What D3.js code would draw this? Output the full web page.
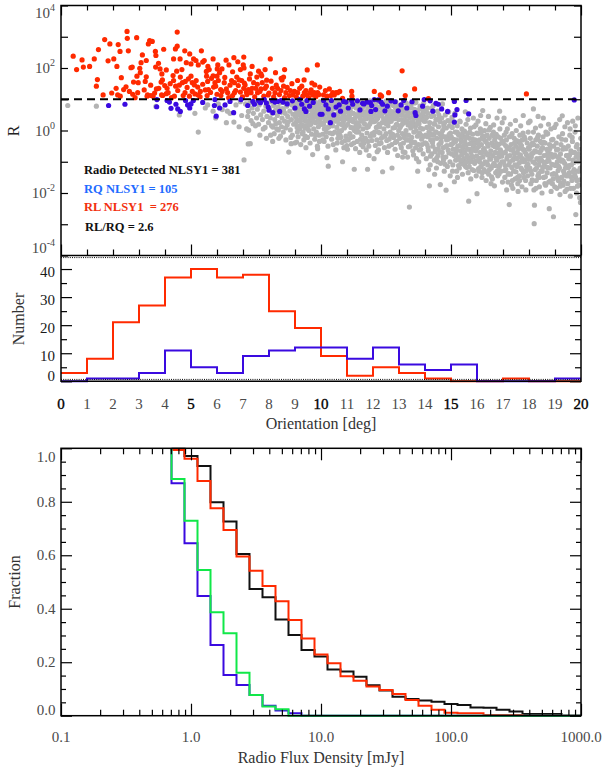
<!DOCTYPE html>
<html><head><meta charset="utf-8">
<script src="https://cdn.jsdelivr.net/npm/d3@7"></script>
<style>body{margin:0;background:#fff}svg{display:block}text{font-family:"Liberation Serif","Times New Roman",serif}</style>
</head><body><svg id="c" width="604" height="774"></svg>
<script>
// ---------- DATA ----------
// Scatter: [orientation deg, log10 R]
const rlPoints = [[0.47,2.38],[0.81,2.26],[0.86,2.03],[1.28,2.29],[1.44,2.59],[1.68,2.91],[1.88,2.77],[2.03,2.29],[1.81,2.23],[2.15,2.05],[2.27,2.53],[2.32,1.69],[2.54,3.17],[2.55,2.95],[2.59,2.55],[2.91,2.97],[2.69,2.01],[2.74,2.03],[2.79,1.55],[2.92,1.74],[3.03,1.99],[3.08,2.17],[3.13,2.42],[3.28,2.24],[3.36,2.77],[3.41,2.88],[3.51,2.85],[3.63,2.53],[3.65,2.40],[3.64,2.03],[3.81,1.97],[3.88,1.81],[4.05,1.94],[4.47,3.15],[4.40,2.61],[4.47,2.70],[4.76,2.55],[4.33,2.29],[4.58,2.29],[4.82,2.17],[5.00,2.13],[5.10,2.29],[5.19,2.24],[5.28,2.10],[5.45,2.19],[5.51,2.24],[5.85,2.29],[6.03,2.10],[6.01,1.97],[6.19,1.97],[6.46,2.10],[6.65,2.33],[7.03,2.35],[7.01,2.10],[7.04,2.00],[7.28,1.81],[7.53,1.71],[7.69,1.81],[7.85,1.95],[8.05,2.29],[7.74,1.53],[7.91,1.61],[8.47,1.67],[8.56,1.71],[9.10,1.60],[9.47,1.94],[9.86,2.10],[9.76,1.46],
[1.36,1.42],[1.40,1.63],[1.62,1.14],[2.12,1.35],[2.18,1.14],[2.28,1.10],[2.41,1.31],[2.63,1.25],[2.76,1.16],[2.97,1.53],[3.28,1.72],[3.24,1.57],[3.31,1.10],[3.46,1.12],[3.67,1.33],[3.76,1.35],[3.85,1.55],[3.99,1.44],[3.87,1.14],[4.08,1.35],[4.12,1.21],[4.31,1.76],[4.33,1.60],[4.41,1.42],[4.49,1.28],[4.59,1.71],[4.67,1.53],[4.78,1.57],[4.85,1.38],[5.00,1.74],[5.05,1.53],[5.13,1.46],[5.26,1.39],[5.28,1.14],[5.36,1.25],[5.59,1.89],[5.60,1.74],[5.64,1.57],[5.67,1.31],[5.62,1.12],[5.79,1.67],[5.87,1.39],[5.92,1.53],[6.00,1.74],[6.05,1.60],[6.14,1.31],[6.28,1.53],[6.36,1.33],[6.41,1.21],[6.56,1.60],[6.67,1.53],[6.76,1.71],[6.82,1.44],[6.90,1.23],[6.95,1.60],[7.03,1.35],[7.08,1.46],[7.13,1.23],[7.21,1.31],[7.31,1.21],[7.41,1.53],[7.49,1.35],[7.56,1.21],[7.69,1.33],[7.85,1.35],[7.97,1.14],[8.13,1.35],[8.23,1.21],[8.33,1.35],[8.46,1.28],[8.56,1.42],[8.65,1.21],[8.82,1.28],[8.91,1.14],[9.10,1.21],[9.26,1.42],[9.36,1.21],[9.46,1.14],[9.59,1.21],[9.68,1.14],[9.74,1.21],[9.87,1.21],[9.95,1.39],[6.00,1.16],[6.15,1.12],[6.60,1.12],[6.67,1.21],[5.15,1.17],[4.77,1.21],[4.94,1.10],[4.36,1.10],[3.91,1.12],[3.54,1.10],[3.33,1.14],[2.95,1.21],
[10.17,1.28],[10.32,1.33],[10.23,1.10],[10.38,1.12],[10.51,1.14],[10.58,1.21],[10.64,1.21],[10.72,1.25],[10.83,1.03],[11.18,1.25],[11.19,1.10],[12.05,1.25],[12.28,1.14],[12.33,1.10],[12.60,1.21],[13.12,1.91],[13.24,1.12],[13.60,1.33],[14.13,1.02],[17.90,1.17],[10.10,1.14],[10.45,1.21],
[3.2,1.30],[3.45,1.45],[3.6,1.20],[3.9,1.62],[4.05,1.18],[4.2,1.50],[4.25,1.05],[4.55,1.45],[4.7,1.12],[4.9,1.65],[5.05,1.25],[5.2,1.60],[5.35,1.08],[5.45,1.48],[5.55,1.30],[5.7,1.95],[5.75,1.22],[5.95,1.42],[6.1,1.85],[6.2,1.25],[6.3,1.70],[6.45,1.05],[6.5,1.45],[6.6,1.88],[6.72,1.28],[6.85,1.62],[6.98,1.08],[7.05,1.52],[7.15,1.15],[7.25,1.65],[7.35,1.35],[7.45,1.08],[7.55,1.48],[7.65,1.25],[7.72,1.75],[7.8,1.10],[7.9,1.42],[8.0,1.20],[8.08,1.58],[8.18,1.08],[8.28,1.45],[8.4,1.15],[8.5,1.62],[8.6,1.05],[8.7,1.38],[8.78,1.12],[8.88,1.50],[8.98,1.25],[9.05,1.08],[9.18,1.35],[9.3,1.10],[9.42,1.28],[9.52,1.05],[9.62,1.30],[9.8,1.08],[9.92,1.15],[2.5,1.40],[2.85,1.05],[3.05,1.85],[1.95,1.20],[4.45,1.90],[5.85,1.75],[6.9,1.95],[7.6,1.90],[8.25,1.85],[3.75,2.15],[4.95,2.45],[5.65,2.05],[6.35,2.25],[2.2,2.75],[1.1,2.05],[0.6,1.95],[3.95,2.60],[4.65,1.95],[5.4,2.55],[6.8,2.20],[7.35,2.05],[8.6,1.95],[9.35,1.62],[9.65,1.52]];

const rqPoints = [[1.83,0.80],[2.46,0.84],[3.69,0.99],[3.68,0.76],[4.08,0.96],[4.17,0.91],[4.23,0.71],[4.42,0.84],[4.49,0.69],[4.59,0.61],[4.79,0.96],[4.87,0.82],[5.00,0.85],[5.09,0.96],[5.92,0.99],[5.90,0.80],[5.97,0.46],[6.31,0.82],[6.64,0.57],[6.92,0.99],[7.18,0.80],[7.38,0.93],[7.44,0.84],[7.67,0.89],[7.82,0.99],[7.97,0.75],[8.13,0.96],[8.15,0.57],[8.23,0.91],[8.33,0.93],[8.41,0.61],[8.46,0.96],[8.54,0.91],[9.18,0.99],[9.26,0.84],[9.36,0.69],[9.46,0.96],[9.56,0.78],[9.42,0.61],[9.97,0.52],
[10.10,0.96],[10.19,0.82],[10.28,0.69],[10.04,0.52],[10.49,0.50],[10.36,0.25],[10.58,0.75],[10.87,0.93],[10.96,0.91],[11.18,0.96],[11.22,0.84],[11.60,0.87],[11.77,0.91],[11.90,0.89],[11.95,0.80],[11.92,0.61],[12.05,0.99],[12.10,0.67],[12.31,0.91],[12.37,0.84],[12.46,0.63],[12.69,0.95],[12.97,0.63],[13.08,0.82],[13.18,0.96],[13.62,0.57],[13.65,0.48],[13.91,0.78],[13.97,0.99],[14.42,0.87],[14.51,0.84],[14.64,0.69],[14.87,0.61],[15.13,0.93],[15.23,0.67],[15.15,0.50],[15.13,0.27],[15.58,0.96],[15.68,0.53],[19.74,0.98],
[7.6,0.95],[7.9,0.88],[8.0,0.65],[8.7,0.85],[8.9,0.95],[9.0,0.72],[9.7,0.90],[10.4,0.96],[10.7,0.82],[10.75,0.62],[11.05,0.72],[11.4,0.95],[11.5,0.66],[11.65,0.85],[12.2,0.98],[12.55,0.78],[12.85,0.92],[13.3,0.72],[13.5,0.92],[14.2,0.95],[14.3,0.62],[6.5,0.93],[6.1,0.72],[5.45,0.90],[4.95,0.72]];

// Undetected objects, flat pairs: orientation*100, log10(R)*100
const grayPairs = [26,80,136,78,365,77,455,50,
515,55,528,-5,555,72,564,82,585,62,595,40,
605,85,620,67,636,25,650,55,665,27,673,82,690,92,640,62,695,48,685,12,
704,-94,714,5,720,-43,721,61,722,1,728,-42,731,32,710,85,735,72,740,55,745,90,752,40,755,68,760,20,762,82,768,50,772,95,775,35,780,62,785,10,788,78,792,45,795,88,798,25,718,45,725,88,748,15,758,92,778,5,765,-15,738,22,790,-25,
802,70,805,40,808,92,810,15,812,55,815,11,818,80,820,-10,822,35,825,65,828,95,830,5,832,48,835,75,838,-25,840,25,842,88,845,58,848,12,850,40,852,70,855,-5,858,90,860,30,862,55,865,-30,868,78,870,18,872,45,875,95,876,-69,880,62,882,2,885,-42,886,35,888,82,890,-15,892,52,895,20,897,72,899,-40,814,-35,836,2,844,-18,856,65,864,8,874,28,884,-22,894,92,826,22,866,85,806,-15,
902,45,905,85,906,-37,908,10,910,62,912,-20,914,32,916,92,918,5,920,52,922,-45,924,75,926,18,928,-10,930,40,932,88,934,-30,936,60,938,8,940,30,942,-55,944,78,946,15,948,-22,950,48,952,95,954,0,956,35,958,-40,960,68,962,22,964,-12,966,85,968,-77,970,42,972,5,974,58,976,-28,978,90,980,25,982,-5,984,70,986,-50,987,-58,988,38,990,12,992,82,994,-35,996,50,998,20,903,25,913,72,923,42,933,15,943,55,953,28,963,48,973,80,983,45,993,-15,909,-5,939,-18,969,30,997,65,
901,70,904,55,907,35,911,88,915,50,917,15,919,78,921,30,925,58,927,92,929,45,931,-5,935,80,937,40,941,62,945,30,947,88,949,5,951,68,955,72,957,18,959,50,961,90,965,38,967,62,971,75,975,28,977,48,979,-15,981,85,985,55,989,72,991,30,995,92,999,40,
1002,88,1004,45,1006,-12,1008,70,1010,20,1012,-35,1014,92,1016,55,1018,5,1020,-20,1022,75,1023,-87,1025,35,1027,-50,1028,-114,1029,85,1031,12,1033,62,1035,-8,1037,40,1039,95,1041,-28,1043,68,1045,15,1047,-45,1049,50,1051,82,1053,-5,1055,30,1057,-62,1059,72,1061,10,1063,48,1065,-25,1067,90,1069,22,1071,58,1073,-15,1075,38,1077,80,1079,0,1081,-38,1083,-100,1084,65,1086,28,1088,-55,1090,8,1092,85,1094,42,1096,-18,1098,60,1001,25,1011,60,1021,-5,1032,82,1042,30,1052,48,1062,-40,1072,92,1082,18,1093,-32,1097,75,1007,-30,1017,32,1026,10,1036,78,1046,88,1056,52,1066,-10,1076,-22,1087,50,1013,5,1024,58,1034,25,1044,-10,1054,72,1064,35,1074,62,1085,40,1095,15,1099,-48,
1003,72,1005,20,1009,50,1015,80,1019,38,1021,92,1026,68,1030,50,1038,58,1040,22,1048,70,1050,32,1058,90,1060,45,1068,65,1070,-2,1078,55,1080,85,1089,78,1091,35,1093,62,1100,92,
1101,70,1103,20,1105,-30,1107,90,1109,45,1111,-10,1113,62,1115,10,1117,-45,1119,80,1121,35,1123,-20,1125,55,1127,95,1128,-124,1129,0,1131,40,1133,-58,1135,72,1137,25,1139,-35,1141,85,1143,48,1145,-5,1147,15,1149,-70,1151,65,1153,30,1155,92,1157,-15,1159,50,1161,5,1163,78,1165,-40,1167,22,1169,60,1171,-25,1173,88,1175,38,1177,-8,1179,-124,1180,70,1182,12,1184,-50,1186,45,1188,95,1190,-18,1192,28,1194,62,1196,-32,1198,82,1102,-60,1106,55,1112,35,1116,75,1122,8,1126,-40,1132,90,1136,-5,1142,18,1146,60,1152,-28,1156,32,1162,-52,1166,85,1172,45,1176,10,1181,-35,1187,20,1193,75,1197,-10,1104,42,1114,-22,1124,28,1134,15,1144,72,1154,-45,1164,52,1174,-62,1185,-80,1195,40,
1108,68,1110,32,1118,55,1120,92,1130,78,1138,50,1140,8,1148,88,1150,40,1158,72,1160,-30,1168,38,1170,95,1178,58,1183,82,1189,40,1191,68,1199,52,
1201,55,1203,-15,1205,85,1207,30,1209,-48,1211,68,1213,10,1215,-30,1217,92,1219,40,1221,-62,1223,20,1225,75,1227,-8,1229,50,1231,-40,1233,88,1235,25,1237,-132,1238,-20,1240,62,1242,5,1244,-55,1246,80,1248,35,1250,-10,1252,95,1254,45,1256,-70,1258,15,1260,70,1262,-28,1264,52,1266,-5,1268,85,1270,30,1272,-45,1273,-120,1275,60,1277,8,1279,-22,1281,90,1283,38,1285,-60,1287,72,1289,18,1291,-35,1293,48,1295,-80,1297,78,1299,0,1202,28,1206,-5,1212,45,1216,-68,1222,58,1226,12,1232,-25,1236,70,1241,38,1245,-18,1251,22,1255,78,1261,-50,1265,32,1271,85,1276,-12,1282,55,1286,-38,1292,20,1296,65,1204,-90,1214,35,1224,-42,1234,52,1243,80,1253,-32,1263,28,1274,42,1284,10,1294,-15,
1208,62,1210,88,1218,75,1220,-5,1228,92,1230,48,1239,82,1247,58,1249,92,1257,40,1259,88,1267,62,1269,-18,1278,80,1280,45,1288,92,1290,55,1298,35,
1301,50,1303,-25,1305,80,1307,15,1309,-55,1311,35,1313,-10,1315,70,1317,-40,1319,25,1321,92,1323,-70,1325,45,1327,0,1329,-30,1331,62,1333,-85,1335,18,1337,-15,1339,75,1340,-245,1341,40,1343,-50,1345,8,1347,85,1349,-22,1351,55,1353,-65,1355,28,1357,-5,1359,68,1361,-38,1363,12,1365,90,1367,-90,1369,42,1371,-18,1372,-130,1373,60,1375,-45,1377,22,1379,-8,1381,78,1383,-60,1385,35,1387,-28,1389,52,1391,5,1393,-75,1395,88,1397,30,1399,-40,1302,65,1306,-45,1312,20,1316,-68,1322,30,1326,-12,1332,48,1336,-52,1342,72,1346,-35,1352,15,1356,-78,1362,58,1366,-2,1374,32,1378,-62,1382,8,1386,70,1392,-20,1396,45,1304,10,1314,-85,1324,62,1334,-30,1344,25,1354,48,1364,-55,1376,-100,1384,-15,1394,62,
1308,82,1310,50,1318,62,1320,-22,1328,88,1330,30,1338,55,1348,72,1350,-38,1358,40,1360,88,1368,20,1370,65,1380,45,1388,-45,1390,78,1398,60,
1401,30,1403,-40,1405,-90,1407,10,1409,-20,1411,55,1413,-65,1415,-5,1417,-177,1418,25,1420,-110,1422,-30,1424,45,1426,-75,1428,5,1430,-50,1432,80,1434,-15,1436,-95,1438,20,1440,-60,1442,35,1444,-120,1446,-25,1448,62,1450,-80,1452,12,1454,-45,1456,-10,1458,28,1459,-173,1460,-105,1462,-35,1464,40,1466,-70,1468,0,1470,-55,1472,18,1474,-130,1476,-20,1478,50,1480,-85,1481,-191,1482,8,1484,-48,1486,-115,1488,32,1490,-28,1492,-72,1494,15,1496,-100,1498,-8,1402,-15,1406,42,1412,-55,1416,12,1421,-82,1425,-12,1431,-30,1435,22,1441,-5,1445,-88,1451,-58,1455,38,1461,-40,1465,-15,1471,-95,1475,25,1485,-20,1489,-62,1495,30,1499,-45,1404,65,1414,-125,1427,72,1437,-140,1447,35,1457,-68,1467,85,1477,-108,1487,58,1497,-145,
1408,-45,1410,72,1419,-15,1423,5,1429,-38,1433,48,1439,-68,1443,-5,1449,-100,1453,50,1463,-22,1469,-85,1473,10,1479,-52,1483,-30,1491,60,1493,-12,
1501,-20,1503,-75,1505,10,1507,-110,1509,-40,1511,25,1513,-164,1514,-60,1516,-5,1518,-95,1520,-30,1522,-130,1524,15,1526,-50,1528,-85,1530,-15,1532,-120,1534,30,1536,-65,1538,-100,1540,-35,1542,5,1544,-140,1546,-55,1548,-20,1550,-90,1552,-2,1554,-72,1556,-115,1558,20,1560,-45,1562,-80,1564,-10,1566,-135,1568,-226,1569,-60,1571,-25,1573,-100,1575,8,1577,-70,1579,-40,1581,-125,1583,-12,1585,-85,1587,-50,1589,12,1591,-105,1593,-30,1595,-65,1597,-145,1599,-8,1502,-45,1506,-130,1512,-80,1517,-35,1521,-62,1527,-10,1531,-92,1537,-28,1541,-78,1547,-108,1551,-48,1557,-22,1561,-118,1567,-88,1572,-5,1578,-98,1582,-58,1588,-128,1592,-38,1598,-82,1504,42,1515,55,1525,-150,1535,28,1545,-8,1555,60,1565,35,1576,-155,1586,40,1596,18,
1508,-60,1510,-28,1519,-75,1523,-5,1529,-112,1533,-48,1539,-18,1543,-95,1549,-68,1553,-35,1559,-100,1563,-60,1570,-115,1574,-42,1580,-82,1584,-28,1590,-62,1594,-98,
1600,-202,1601,-55,1603,-10,1605,-95,1607,-130,1609,-30,1611,-70,1613,5,1615,-115,1617,-45,1619,-150,1621,-20,1623,-85,1625,-60,1627,-125,1629,0,1631,-100,1633,-35,1635,-160,1637,-75,1639,-15,1641,-110,1643,-50,1645,-140,1647,-25,1649,-90,1651,10,1653,-65,1655,-120,1657,-40,1659,-155,1661,-80,1663,-5,1665,-105,1667,-177,1668,-30,1670,-70,1672,-135,1674,-12,1676,-95,1678,-55,1680,-145,1682,-20,1684,-85,1686,-115,1688,5,1690,-62,1692,-130,1694,-40,1696,-100,1698,-165,1602,-38,1606,-122,1612,-88,1616,-8,1622,-108,1626,-28,1632,-68,1636,-132,1642,-78,1646,2,1652,-92,1656,-148,1662,-48,1666,-18,1671,-112,1675,-42,1681,-72,1685,-138,1691,-25,1695,-82,1604,30,1614,48,1622,64,1634,22,1644,45,1654,-170,1664,18,1677,40,1687,62,1697,25,
1608,-50,1610,-100,1618,-72,1620,-135,1628,-58,1630,-18,1638,-102,1640,-42,1648,-125,1650,-75,1658,-15,1660,-112,1669,-52,1673,-88,1679,-128,1683,-45,1689,-108,1693,-70,1699,-35,
1701,-40,1703,-100,1705,-15,1707,-150,1709,-70,1711,-125,1713,-30,1715,-90,1717,5,1719,-165,1721,-55,1723,-110,1724,-237,1725,-20,1727,-80,1729,-140,1731,-45,1733,-175,1735,-10,1737,-95,1739,-60,1741,-130,1743,-25,1745,-85,1747,-155,1749,-50,1751,0,1753,-115,1755,-70,1757,-170,1759,-35,1761,-105,1763,-145,1765,-15,1767,-78,1769,-120,1771,-48,1773,-180,1775,-90,1777,-8,1779,-135,1781,-62,1783,-100,1785,-28,1787,-160,1789,-75,1791,-115,1793,-40,1795,-145,1797,-5,1799,-88,1702,-72,1706,-128,1712,-5,1716,-58,1722,-138,1726,-100,1732,-18,1736,-160,1742,-72,1746,-110,1752,-32,1756,-150,1762,-85,1766,-42,1772,-125,1776,-60,1782,-20,1786,-130,1792,-80,1796,-108,1704,40,1714,-190,1728,20,1738,-185,1748,32,1758,-195,1768,15,1778,48,1788,-190,1798,25,
1708,-112,1710,-48,1718,-82,1720,-140,1730,-62,1734,-118,1740,-92,1744,-40,1750,-132,1754,-90,1760,-58,1764,-160,1770,-100,1774,-30,1780,-150,1784,-68,1790,-128,1794,-92,1798,-55,
1801,-60,1803,-120,1805,-25,1807,-170,1809,-85,1811,-140,1813,-40,1815,-100,1817,-5,1819,-190,1820,-298,1821,-239,1822,-65,1824,-125,1826,-30,1828,-160,1830,-90,1832,-50,1834,-145,1836,-15,1838,-110,1840,-180,1842,-70,1844,-35,1846,-130,1848,-95,1850,-200,1852,-55,1854,-20,1856,-150,1858,-80,1860,-115,1862,-40,1864,-175,1866,-100,1868,-60,1870,-135,1872,-10,1874,-90,1876,-165,1878,-250,1879,-45,1881,-120,1883,-75,1885,-195,1887,-30,1889,-140,1891,-85,1893,-155,1894,-276,1895,-50,1897,-110,1899,-180,1802,-92,1806,-48,1812,-158,1816,-72,1823,-105,1827,-185,1833,-22,1837,-138,1843,-88,1847,-62,1853,-118,1857,-38,1863,-148,1867,-12,1873,-68,1877,-98,1882,-162,1886,-78,1892,-28,1896,-138,1804,30,1817,69,1825,8,1835,45,1845,15,1855,40,1865,-5,1875,20,1884,5,1898,10,
1808,-130,1810,-75,1814,-160,1818,-45,1829,-120,1831,-68,1839,-150,1841,-98,1849,-40,1851,-130,1859,-105,1861,-170,1869,-78,1871,-118,1880,-58,1888,-108,1890,-170,1898,-78,
1901,-80,1903,-140,1905,-40,1907,-185,1909,-100,1911,-60,1913,-160,1915,-20,1917,-120,1919,-205,1921,-75,1923,-45,1925,-150,1927,-95,1929,-10,1931,-175,1933,-130,1935,-55,1937,-105,1939,-195,1941,-30,1943,-145,1945,-80,1947,-115,1949,-170,1951,-50,1953,-90,1955,-135,1957,-15,1959,-210,1961,-65,1963,-110,1965,-160,1967,-35,1969,-95,1971,-185,1973,-125,1975,-70,1977,-5,1979,-150,1980,-269,1981,-85,1983,-200,1985,-45,1987,-130,1989,-100,1991,-175,1993,-60,1995,-215,1997,-120,1999,-25,1902,-112,1906,-62,1912,-128,1916,-88,1922,-168,1926,-28,1932,-98,1936,-138,1942,-58,1946,-188,1952,-118,1956,-78,1962,-148,1966,-22,1972,-102,1976,-142,1982,-52,1986,-178,1992,-88,1996,-158,1904,20,1918,35,1928,47,1938,12,1948,25,1958,5,1968,30,1978,15,1988,40,1998,-230,
1908,-150,1910,-85,1914,-115,1920,-178,1924,-98,1930,-60,1934,-162,1940,-120,1944,-80,1950,-145,1954,-112,1960,-185,1964,-70,1970,-132,1974,-100,1984,-160,1990,-75,1994,-130];

const yDecades = [1e-4,1e-3,1e-2,1e-1,1,10,100,1e3,1e4];
const yLabelExp = [4,2,0,-2,-4];
const rThreshold = 10;
const legendLines = ["Radio Detected NLSY1 = 381","RQ NLSY1 = 105","RL NLSY1  = 276","RL/RQ = 2.6"];

// Histogram of orientation
const histEdges = [0,1,2,3,4,5,6,7,8,9,10,11,12,13,14,15,16,17,18,19,20];
const histRL = [3,8,21,27,37,40,37,38,25,19,9,2,5,3,1,0,0,1,0,0];
const histRQ = [0,1,1,3,11,5,3,9,11,12,12,8,12,6,4,6,0,0,0,1];
const histYLabels = [0,10,20,30,40];

// Cumulative fraction vs radio flux density (log10 mJy bin edges)
const fluxLogEdges = [-0.15,-0.05,0.05,0.15,0.25,0.35,0.45,0.55,0.65,0.75,0.85,0.95,1.05,1.15,1.25,1.35,1.45,1.55,1.65,1.75,1.85,1.95,2.05,2.15,2.25,2.35,2.45,2.55,2.65,2.75,2.85,2.95];
const fracAll = [0.998,0.971,0.934,0.798,0.726,0.605,0.474,0.443,0.360,0.302,0.246,0.221,0.173,0.165,0.146,0.114,0.094,0.071,0.062,0.057,0.052,0.044,0.040,0.031,0.030,0.022,0.016,0.006,0.006,0.006];
const fracRL = [0.994,0.961,0.878,0.776,0.694,0.595,0.542,0.485,0.428,0.358,0.289,0.229,0.196,0.148,0.131,0.109,0.096,0.081,0.059,0.037,0.022,0.011,0.009,0.009,0.003,0.003,0.003];
const fracRQ = [0.869,0.645,0.448,0.264,0.152,0.115,0.077,0.037,0.019,0.009];
const fracGreen = [0.885,0.729,0.545,0.387,0.308,0.161,0.077,0.034,0.024];
const fluxLabels = [0.1,1,10,100,1000];
const fracLabels = [0,0.2,0.4,0.6,0.8,1.0];

// ---------- DRAW ----------
const svg = d3.select('#c');
svg.append('rect').attr('width',604).attr('height',774).attr('fill','#fff');
const RED='#ff2a00', BLUE='#3a0ae0', GRAY='#b3b3b3', GREEN='#10e848';

function ticks(axis, tr, vals, size){
  const g = svg.append('g').attr('transform',tr)
    .call(axis.tickValues(vals).tickSize(size).tickFormat(()=>''));
  g.select('.domain').remove();
  g.selectAll('.tick text').remove();
  g.selectAll('.tick line').attr('stroke','#000').attr('stroke-width',1.2);
  return g;
}
function txt(x,y,s,o={}){
  const t = svg.append('text').attr('x',x).attr('y',y).text(s)
    .attr('font-size',o.size||15).attr('fill',o.fill||'#4a4a4a')
    .attr('text-anchor',o.anchor||'middle');
  if(o.weight) t.attr('font-weight',o.weight);
  return t;
}

// --- Top panel ---
const T={l:61,r:581,t:5.5,b:255.5};
const xT=d3.scaleLinear().domain([0,20]).range([T.l,T.r]);
const yT=d3.scaleLog().domain([1e-4,1e4]).range([T.b,T.t]);
const gp=[]; for(let i=0;i<grayPairs.length;i+=2) gp.push([grayPairs[i]/100, grayPairs[i+1]/100]);
svg.append('clipPath').attr('id','clipT').append('rect').attr('x',T.l).attr('y',T.t).attr('width',T.r-T.l).attr('height',T.b-T.t);
const dots=(data,col)=>svg.append('g').attr('clip-path','url(#clipT)').selectAll('circle').data(data).join('circle')
  .attr('cx',d=>xT(d[0])).attr('cy',d=>yT(Math.pow(10,d[1]))).attr('r',2.6).attr('fill',col);
dots(gp,GRAY); dots(rlPoints,RED); dots(rqPoints,BLUE);
svg.append('line').attr('x1',T.l).attr('x2',T.r).attr('y1',yT(rThreshold)).attr('y2',yT(rThreshold))
  .attr('stroke','#000').attr('stroke-width',1.8).attr('stroke-dasharray','8,5');
svg.append('rect').attr('x',T.l).attr('y',T.t).attr('width',T.r-T.l).attr('height',T.b-T.t)
  .attr('fill','none').attr('stroke','#000').attr('stroke-width',1.5);
const majX=[0,5,10,15,20], minX=histEdges.filter(d=>d%5!==0);
ticks(d3.axisTop(xT),`translate(0,${T.t})`,majX,-10);
ticks(d3.axisTop(xT),`translate(0,${T.t})`,minX,-5);
ticks(d3.axisBottom(xT),`translate(0,${T.b})`,majX,-11);
ticks(d3.axisBottom(xT),`translate(0,${T.b})`,minX,-6);
ticks(d3.axisLeft(yT),`translate(${T.l},0)`,yDecades,-7);
ticks(d3.axisRight(yT),`translate(${T.r},0)`,yDecades,-7);
yLabelExp.forEach(e=>{
  const yy=Math.max(13,Math.min(248,yT(Math.pow(10,e))))+5;
  const t=txt(55,yy,'',{anchor:'end'});
  t.append('tspan').text('10');
  t.append('tspan').attr('dy',-7).attr('font-size',10).text(e<0?'-'+(-e):String(e));
});
svg.append('text').attr('transform','translate(19,131) rotate(-90)').attr('text-anchor','middle')
  .attr('font-size',16).attr('fill','#222').text('R');
const legCols=['#111','#1f6bff','#f2300e','#111'];
const legY=[174,192.5,211,231];
legendLines.forEach((s,i)=>txt(i===3?85:84,legY[i],s,{anchor:'start',size:12.5,weight:'bold',fill:legCols[i]}).style('white-space','pre'));

// --- Histogram panel ---
const H={l:61,r:581,t:256,b:381.3};
const xH=d3.scaleLinear().domain([0,20]).range([H.l,H.r]);
const yH=d3.scaleLinear().domain([0,45]).range([H.b,255]);
const stepH=d3.line().x(d=>xH(d[0])).y(d=>yH(d[1])).curve(d3.curveStepAfter);
const mk=arr=>arr.map((v,i)=>[histEdges[i],v]).concat([[histEdges[arr.length],arr[arr.length-1]]]);
svg.append('path').attr('d',stepH(mk(histRL))).attr('fill','none').attr('stroke',RED).attr('stroke-width',2);
svg.append('path').attr('d',stepH(mk(histRQ))).attr('fill','none').attr('stroke',BLUE).attr('stroke-width',2);
[257.6,379.4].forEach(y=>svg.append('line').attr('x1',H.l).attr('x2',H.r).attr('y1',y).attr('y2',y)
  .attr('stroke','#000').attr('stroke-width',1).attr('stroke-dasharray','1,1.2'));
svg.append('path').attr('d',`M${H.l},${H.t}V${H.b}H${H.r}V${H.t}`).attr('fill','none').attr('stroke','#000').attr('stroke-width',1.5);
ticks(d3.axisLeft(yH),`translate(${H.l},0)`,histYLabels,-11);
ticks(d3.axisLeft(yH),`translate(${H.l},0)`,[5,15,25,35],-6);
ticks(d3.axisRight(yH),`translate(${H.r},0)`,histYLabels,-11);
ticks(d3.axisRight(yH),`translate(${H.r},0)`,[5,15,25,35],-6);
histYLabels.forEach(v=>{ const yy=(v===0?376:yH(v)+3)+5; txt(55,yy,String(v),{anchor:'end',fill:'#1a1a1a'}); });
histEdges.forEach(v=>{ const m=v%5===0; txt(xH(v),408.5,String(v),{fill:m?'#000':'#4a4a4a'}).attr('stroke',m?'#000':'none').attr('stroke-width',m?0.35:0); });
txt(321,429,'Orientation [deg]',{size:16,fill:'#333'});
svg.append('text').attr('transform','translate(24,319) rotate(-90)').attr('text-anchor','middle')
  .attr('font-size',16).attr('fill','#333').text('Number');

// --- Bottom panel ---
const B={l:61,r:581,t:448.3,b:715.7};
const xB=d3.scaleLog().domain([0.1,1000]).range([B.l,B.r]);
const yB=d3.scaleLinear().domain([0,1]).range([B.b,B.t]);
const stepB=d3.line().x(d=>xB(d[0])).y(d=>yB(d[1])).curve(d3.curveStepAfter);
const E=k=>Math.pow(10,fluxLogEdges[k]);
function cdf(vals){
  const p=[[E(0),1]];
  vals.forEach((v,k)=>p.push([E(k),v]));
  p.push([E(vals.length),0]); p.push([1000,0]);
  return p;
}
[[fracAll,'#111'],[fracRL,RED],[fracRQ,BLUE],[fracGreen,GREEN]].forEach(([a,c])=>
  svg.append('path').attr('d',stepB(cdf(a))).attr('fill','none').attr('stroke',c).attr('stroke-width',2));
svg.append('rect').attr('x',B.l).attr('y',B.t).attr('width',B.r-B.l).attr('height',B.b-B.t)
  .attr('fill','none').attr('stroke','#000').attr('stroke-width',1.5);
const minB=[0.1,1,10,100].flatMap(d=>[2,3,4,5,6,7,8,9].map(m=>d*m));
ticks(d3.axisTop(xB),`translate(0,${B.t})`,fluxLabels,-12);
ticks(d3.axisTop(xB),`translate(0,${B.t})`,minB,-6);
ticks(d3.axisBottom(xB),`translate(0,${B.b})`,fluxLabels,-12);
ticks(d3.axisBottom(xB),`translate(0,${B.b})`,minB,-6);
const minY=[0.05,0.1,0.15,0.25,0.3,0.35,0.45,0.5,0.55,0.65,0.7,0.75,0.85,0.9,0.95];
ticks(d3.axisLeft(yB),`translate(${B.l},0)`,fracLabels,-11);
ticks(d3.axisLeft(yB),`translate(${B.l},0)`,minY,-5);
ticks(d3.axisRight(yB),`translate(${B.r},0)`,fracLabels,-11);
ticks(d3.axisRight(yB),`translate(${B.r},0)`,minY,-5);
fluxLabels.forEach(v=>txt(xB(v),742,v.toFixed(1)));
fracLabels.forEach(v=>{ const yy=Math.max(457,Math.min(710,yB(v)))+5; txt(55.5,yy,v.toFixed(1),{anchor:'end'}); });
txt(321,763,'Radio Flux Density [mJy]',{size:16,fill:'#333'});
svg.append('text').attr('transform','translate(20,582) rotate(-90)').attr('text-anchor','middle')
  .attr('font-size',16).attr('fill','#333').text('Fraction');
</script></body></html>
